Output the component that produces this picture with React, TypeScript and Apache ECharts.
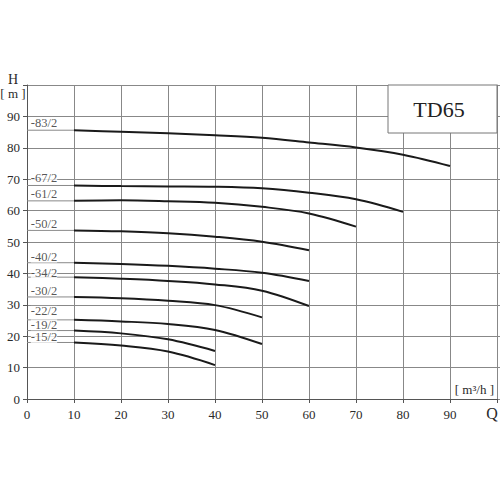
import React, { useEffect, useRef } from "react";
import * as echarts from "echarts";

const FONT = "Liberation Serif";

const flows = [10, 20, 30, 40, 50, 60, 70, 80, 90];
const curveNames = ["-83/2", "-67/2", "-61/2", "-50/2", "-40/2", "-34/2", "-30/2", "-22/2", "-19/2", "-15/2"];
const h83 = [85.6, 85.1, 84.6, 84.0, 83.2, 81.7, 80.1, 77.8, 74.2];
const h67 = [68.0, 67.8, 67.7, 67.6, 67.1, 65.7, 63.6, 59.6];
const h61 = [63.1, 63.3, 63.0, 62.5, 61.2, 59.1, 54.9];
const h50 = [53.7, 53.4, 52.8, 51.7, 50.1, 47.4];
const h40 = [43.4, 43.0, 42.4, 41.5, 40.2, 37.6];
const h34 = [38.8, 38.3, 37.6, 36.5, 34.5, 29.6];
const h30 = [32.5, 32.1, 31.3, 29.9, 26.0];
const h22 = [25.2, 24.7, 23.9, 22.0, 17.5];
const h19 = [21.8, 20.9, 19.0, 15.3];
const h15 = [18.0, 17.0, 15.1, 10.8];
const heads = [h83, h67, h61, h50, h40, h34, h30, h22, h19, h15];
// vertical position (in H units) of each curve's name label
const labelY = [87.9, 70.4, 65.3, 55.7, 45.2, 40.2, 34.5, 27.9, 23.6, 19.6];
const labelX = 0.8;
const xTicks = [0, 10, 20, 30, 40, 50, 60, 70, 80, 90, 100];
const yTicks = [0, 10, 20, 30, 40, 50, 60, 70, 80, 90, 100];

export default function App() {
  const ref = useRef<HTMLDivElement>(null);
  useEffect(() => {
    if (!ref.current) return;
    const chart = echarts.init(ref.current, undefined, { renderer: "svg" });
    const curveSeries = heads.map((h, i) => ({
      type: "line",
      name: curveNames[i],
      data: h.map((v, j) => [flows[j], v]),
      smooth: 0.35,
      showSymbol: false,
      lineStyle: { color: "#1a1a1a", width: 2 },
      z: 5,
    }));
    const leaderSeries = heads.map((h, i) => ({
      type: "line",
      name: "lead" + curveNames[i],
      data: [
        [0, h[0]],
        [flows[0], h[0]],
      ],
      showSymbol: false,
      lineStyle: { color: "#888", width: 1 },
      z: 3,
    }));
    const labelSeries = {
      type: "scatter",
      data: curveNames.map((n, i) => ({ value: [labelX, labelY[i]], name: n })),
      symbolSize: 0,
      z: 6,
      label: {
        show: true,
        position: "right",
        distance: 0,
        formatter: (p: any) => p.name,
        fontFamily: FONT,
        fontSize: 12.5,
        lineHeight: 11,
        color: "#2a2a2a",
        backgroundColor: "#fff",
        padding: 0,
      },
    };
    chart.setOption({
      animation: false,
      backgroundColor: "#fff",
      textStyle: { fontFamily: FONT },
      grid: { left: 27, right: 3, top: 85, bottom: 101, containLabel: false },
      xAxis: {
        type: "value",
        min: xTicks[0],
        max: xTicks[xTicks.length - 1],
        interval: 10,
        axisLine: { show: true, lineStyle: { color: "#555", width: 1 } },
        axisTick: { show: true, length: 4, lineStyle: { color: "#555" } },
        axisLabel: {
          margin: 9,
          fontFamily: FONT,
          fontSize: 13,
          color: "#2a2a2a",
          formatter: (v: number) => (v === 100 ? "" : String(v)),
        },
        splitLine: { show: true, lineStyle: { color: "#888", width: 1 } },
      },
      yAxis: [
        {
          type: "value",
          min: yTicks[0],
          max: yTicks[yTicks.length - 1],
          interval: 10,
          axisLine: { show: true, lineStyle: { color: "#555", width: 1 } },
          axisTick: { show: true, length: 4, lineStyle: { color: "#555" } },
          axisLabel: {
            margin: 7,
            fontFamily: FONT,
            fontSize: 13,
            color: "#2a2a2a",
            formatter: (v: number) => (v === 100 ? "" : String(v)),
          },
          splitLine: { show: true, lineStyle: { color: "#888", width: 1 } },
        },
        {
          type: "value",
          position: "right",
          min: 0,
          max: 100,
          interval: 10,
          axisLine: { show: true, lineStyle: { color: "#888", width: 1 } },
          axisTick: { show: true, length: 3, lineStyle: { color: "#888" } },
          axisLabel: { show: false },
          splitLine: { show: false },
        },
      ],
      graphic: [
        {
          type: "rect",
          shape: { x: 388, y: 85, width: 109, height: 48 },
          style: { fill: "#fff", stroke: "#777", lineWidth: 1 },
          z: 10,
        },
        {
          type: "text",
          x: 439,
          y: 109,
          style: {
            text: "TD65",
            fontFamily: FONT,
            fontSize: 22,
            fill: "#222",
            textAlign: "center",
            textVerticalAlign: "middle",
          },
          z: 11,
        },
        {
          type: "text",
          x: 13,
          y: 79,
          style: { text: "H", fontFamily: FONT, fontSize: 14, fill: "#2a2a2a", textAlign: "center", textVerticalAlign: "middle" },
        },
        {
          type: "text",
          x: 13,
          y: 93,
          style: { text: "[ m ]", fontFamily: FONT, fontSize: 13, fill: "#2a2a2a", textAlign: "center", textVerticalAlign: "middle" },
        },
        {
          type: "text",
          x: 492,
          y: 413,
          style: { text: "Q", fontFamily: FONT, fontSize: 16, fill: "#2a2a2a", textAlign: "center", textVerticalAlign: "middle" },
        },
        {
          type: "text",
          x: 494,
          y: 389,
          style: { text: "[ m³/h ]", fontFamily: FONT, fontSize: 13, fill: "#2a2a2a", textAlign: "right", textVerticalAlign: "middle" },
        },
      ],
      series: [...leaderSeries, ...curveSeries, labelSeries],
    });
    return () => chart.dispose();
  }, []);
  return <div ref={ref} style={{ position: "fixed", left: 0, top: 0, width: 500, height: 500 }} />;
}
